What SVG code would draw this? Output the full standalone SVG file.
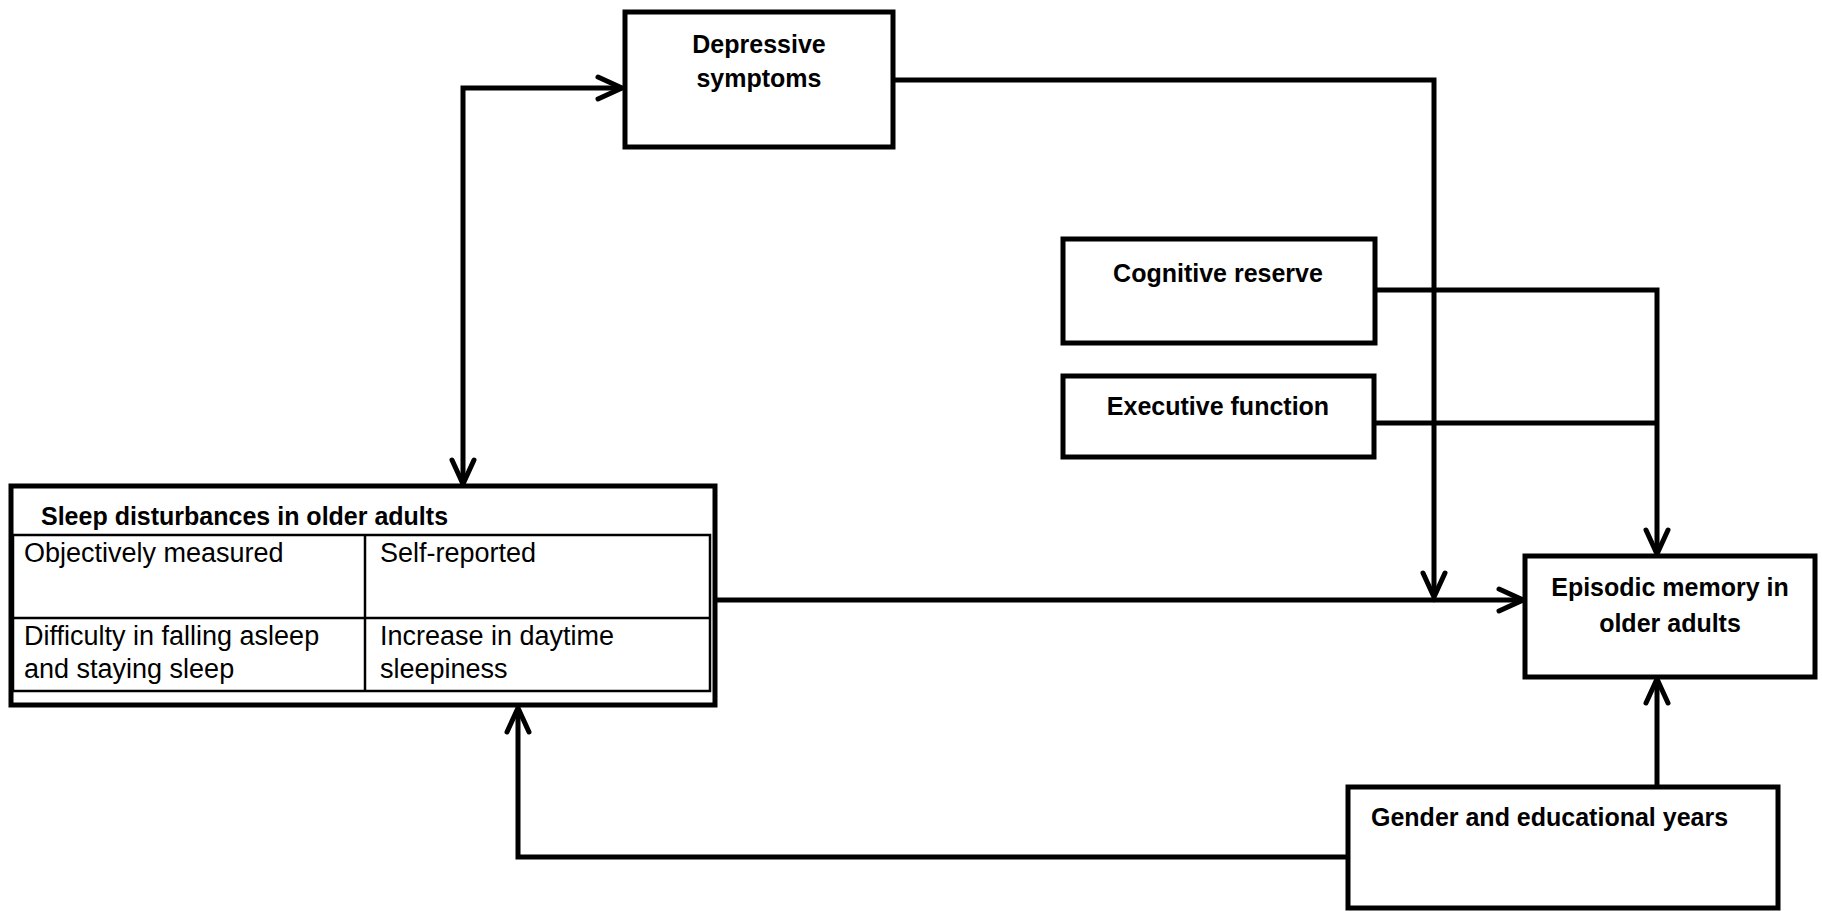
<svg xmlns="http://www.w3.org/2000/svg" width="1822" height="911" viewBox="0 0 1822 911">
<style>
.box{fill:#fff;stroke:#000;stroke-width:5}
.thin{fill:none;stroke:#000;stroke-width:2.5}
.ln{fill:none;stroke:#000;stroke-width:5;stroke-linejoin:miter}
.ah{fill:none;stroke:#000;stroke-width:5;stroke-linecap:round;stroke-linejoin:miter}
.b{font-family:"Liberation Sans",Arial,sans-serif;font-weight:bold;font-size:25px;fill:#000}
.r{font-family:"Liberation Sans",Arial,sans-serif;font-size:27px;fill:#000}
</style>
<rect width="1822" height="911" fill="#fff"/>
<g id="connectors">
  <!-- sleep <-> depressive -->
  <path class="ln" d="M463,484 V88 H621"/>
  <path class="ah" d="M598,77 L622,88 L598,99"/>
  <path class="ah" d="M452,460 L463,484 L474,460"/>
  <!-- depressive -> main path -->
  <path class="ln" d="M895,80 H1434 V596"/>
  <path class="ah" d="M1423,573 L1434,597 L1445,573"/>
  <!-- sleep -> episodic -->
  <path class="ln" d="M716,600 H1522"/>
  <path class="ah" d="M1499,589 L1523,600 L1499,611"/>
  <!-- cognitive reserve / executive function -> episodic -->
  <path class="ln" d="M1376,290 H1657 V553"/>
  <path class="ln" d="M1375,423 H1657"/>
  <path class="ah" d="M1646,530 L1657,554 L1668,530"/>
  <!-- gender -> episodic -->
  <path class="ln" d="M1657,786 V680"/>
  <path class="ah" d="M1646,703 L1657,679 L1668,703"/>
  <!-- gender -> sleep -->
  <path class="ln" d="M1347,857 H518 V709"/>
  <path class="ah" d="M507,732 L518,708 L529,732"/>
</g>
<g id="depressive">
  <rect class="box" x="625" y="12" width="268" height="135"/>
  <text class="b" x="759" y="53" text-anchor="middle">Depressive</text>
  <text class="b" x="759" y="87" text-anchor="middle">symptoms</text>
</g>
<g id="cognitive">
  <rect class="box" x="1063" y="239" width="312" height="104"/>
  <text class="b" x="1218" y="282" text-anchor="middle">Cognitive reserve</text>
</g>
<g id="executive">
  <rect class="box" x="1063" y="376" width="311" height="81"/>
  <text class="b" x="1218" y="415" text-anchor="middle">Executive function</text>
</g>
<g id="sleep">
  <rect class="box" x="11" y="486" width="704" height="219"/>
  <rect class="thin" x="13" y="535" width="697" height="156"/>
  <line class="thin" x1="365" y1="535" x2="365" y2="691"/>
  <line class="thin" x1="13" y1="618" x2="710" y2="618"/>
  <text class="b" x="41" y="525">Sleep disturbances in older adults</text>
  <text class="r" x="24" y="562">Objectively measured</text>
  <text class="r" x="380" y="562">Self-reported</text>
  <text class="r" x="24" y="645">Difficulty in falling asleep</text>
  <text class="r" x="24" y="678">and staying sleep</text>
  <text class="r" x="380" y="645">Increase in daytime</text>
  <text class="r" x="380" y="678">sleepiness</text>
</g>
<g id="episodic">
  <rect class="box" x="1525" y="556" width="290" height="121"/>
  <text class="b" x="1670" y="596" text-anchor="middle">Episodic memory in</text>
  <text class="b" x="1670" y="632" text-anchor="middle">older adults</text>
</g>
<g id="gender">
  <rect class="box" x="1348" y="787" width="430" height="121"/>
  <text class="b" x="1371" y="826">Gender and educational years</text>
</g>
</svg>
